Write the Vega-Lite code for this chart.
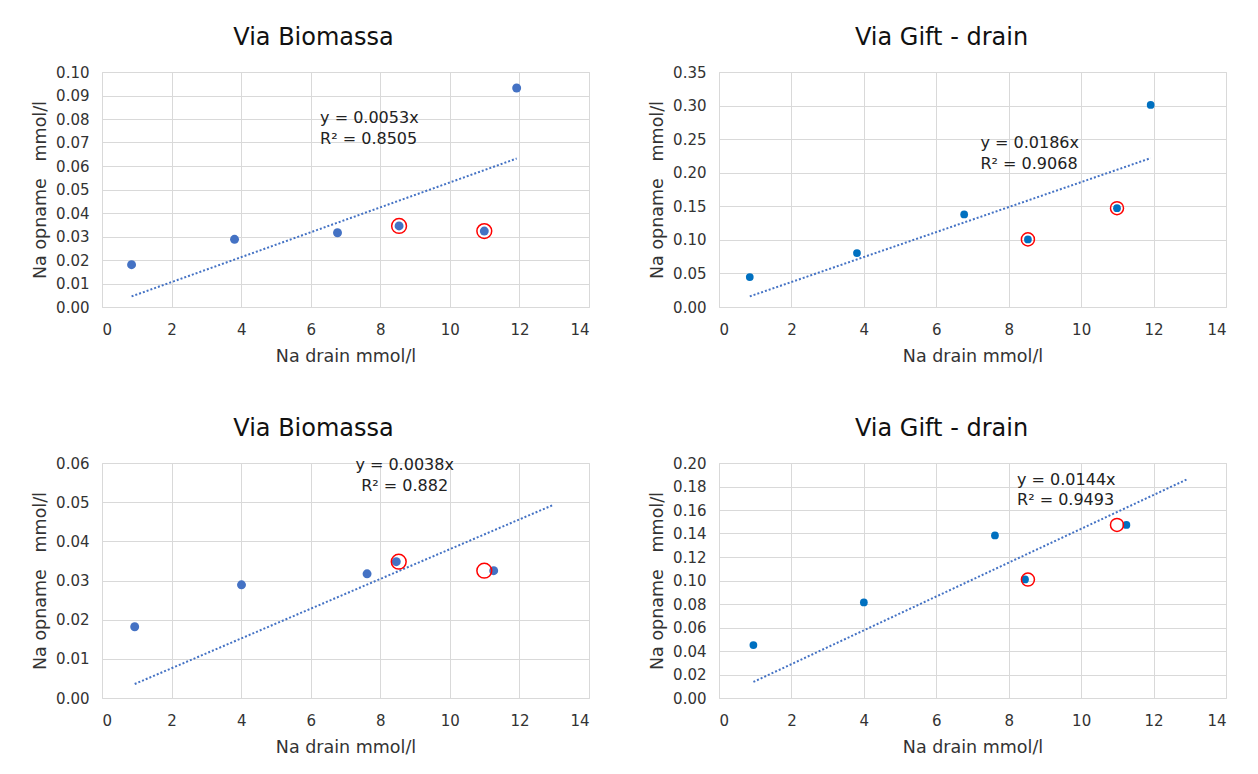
{
  "$schema": "https://vega.github.io/schema/vega-lite/v6.json",
  "background": "white",
  "padding": {"left": 30, "top": 25, "right": 5, "bottom": 5},
  "columns": 2,
  "spacing": {"row": 156, "column": 130},
  "bounds": "flush",
  "config": {
    "font": "DejaVu Sans",
    "view": {"stroke": "#d9d9d9"},
    "axis": {
      "domain": false,
      "ticks": false,
      "grid": true,
      "gridColor": "#d9d9d9",
      "gridWidth": 1,
      "labelFont": "DejaVu Sans",
      "labelFontSize": 15,
      "labelColor": "#333333",
      "titleFont": "DejaVu Sans",
      "titleFontSize": 17.5,
      "titleFontWeight": "normal",
      "titleColor": "#333333"
    },
    "axisX": {"labelPadding": 15, "titlePadding": 10},
    "axisY": {"labelPadding": 13, "titlePadding": 6, "minExtent": 47, "maxExtent": 47},
    "title": {"font": "DejaVu Sans", "fontSize": 24, "fontWeight": "normal", "color": "#111111", "offset": 15, "anchor": "middle"}
  },
  "datasets": {
    "bio1_points": [
      {"drain": 0.85, "opname": 0.0180},
      {"drain": 3.81, "opname": 0.0288},
      {"drain": 6.77, "opname": 0.0316},
      {"drain": 8.54, "opname": 0.0345},
      {"drain": 10.99, "opname": 0.0323},
      {"drain": 11.92, "opname": 0.0932}
    ],
    "bio1_marked": [
      {"drain": 8.54, "opname": 0.0345},
      {"drain": 10.99, "opname": 0.0323}
    ],
    "bio1_trend": [
      {"drain": 0.85, "opname": 0.004505},
      {"drain": 11.92, "opname": 0.063176}
    ],
    "bio1_eq": [
      {"drain": 6.27, "opname": 0.0782, "label": "y = 0.0053x\nR² = 0.8505"}
    ],
    "gift1_points": [
      {"drain": 0.85, "opname": 0.0446},
      {"drain": 3.81, "opname": 0.0803},
      {"drain": 6.77, "opname": 0.1378},
      {"drain": 8.53, "opname": 0.1007},
      {"drain": 10.99, "opname": 0.1472},
      {"drain": 11.92, "opname": 0.3009}
    ],
    "gift1_marked": [
      {"drain": 8.53, "opname": 0.1007},
      {"drain": 10.99, "opname": 0.1472}
    ],
    "gift1_trend": [
      {"drain": 0.85, "opname": 0.01581},
      {"drain": 11.92, "opname": 0.221712}
    ],
    "gift1_eq": [
      {"drain": 7.22, "opname": 0.2364, "label": "y = 0.0186x\nR² = 0.9068"}
    ],
    "bio2_points": [
      {"drain": 0.94, "opname": 0.0182},
      {"drain": 4.01, "opname": 0.0289},
      {"drain": 7.62, "opname": 0.0317},
      {"drain": 8.46, "opname": 0.0348},
      {"drain": 11.26, "opname": 0.0325}
    ],
    "bio2_marked": [
      {"drain": 8.53, "opname": 0.0348},
      {"drain": 10.99, "opname": 0.0325}
    ],
    "bio2_trend": [
      {"drain": 0.94, "opname": 0.003572},
      {"drain": 12.95, "opname": 0.04921}
    ],
    "bio2_eq": [
      {"drain": 8.7, "opname": 0.0581, "label": "y = 0.0038x\nR² = 0.882"}
    ],
    "gift2_points": [
      {"drain": 0.95, "opname": 0.0451},
      {"drain": 4.0, "opname": 0.0813},
      {"drain": 7.62, "opname": 0.1383},
      {"drain": 8.45, "opname": 0.1009},
      {"drain": 11.25, "opname": 0.1473}
    ],
    "gift2_marked": [
      {"drain": 8.53, "opname": 0.1008},
      {"drain": 10.99, "opname": 0.1473}
    ],
    "gift2_trend": [
      {"drain": 0.95, "opname": 0.01368},
      {"drain": 12.95, "opname": 0.18648}
    ],
    "gift2_eq": [
      {"drain": 8.23, "opname": 0.1816, "label": "y = 0.0144x\nR² = 0.9493"}
    ]
  },
  "concat": [
    {
      "title": {"text": "Via Biomassa", "dx": -32},
      "width": 487,
      "height": 235,
      "encoding": {
        "x": {"field": "drain", "type": "quantitative", "scale": {"domain": [0, 14], "nice": false},
              "axis": {"values": [0, 2, 4, 6, 8, 10, 12, 14], "title": "Na drain mmol/l"}},
        "y": {"field": "opname", "type": "quantitative", "scale": {"domain": [0, 0.1], "nice": false},
              "axis": {"values": [0, 0.01, 0.02, 0.03, 0.04, 0.05, 0.06, 0.07, 0.08, 0.09, 0.1], "format": ".2f", "title": "Na opname\u00a0\u00a0\u00a0mmol/l"}}
      },
      "layer": [
        {"data": {"name": "bio1_trend"}, "mark": {"type": "line", "color": "#4472C4", "strokeWidth": 2, "strokeDash": [2, 2]}},
        {"data": {"name": "bio1_points"}, "mark": {"type": "circle", "color": "#4472C4", "size": 80, "opacity": 1}},
        {"data": {"name": "bio1_marked"}, "mark": {"type": "point", "filled": false, "color": "#FF0000", "size": 220, "strokeWidth": 1.5, "opacity": 1}},
        {"data": {"name": "bio1_eq"}, "mark": {"type": "text", "align": "left", "baseline": "alphabetic", "fontSize": 16, "lineHeight": 20.6, "lineBreak": "\n", "color": "#222222"},
         "encoding": {"text": {"field": "label"}}}
      ]
    },
    {
      "title": {"text": "Via Gift - drain", "dx": -31},
      "width": 507,
      "height": 235,
      "encoding": {
        "x": {"field": "drain", "type": "quantitative", "scale": {"domain": [0, 14], "nice": false},
              "axis": {"values": [0, 2, 4, 6, 8, 10, 12, 14], "title": "Na drain mmol/l"}},
        "y": {"field": "opname", "type": "quantitative", "scale": {"domain": [0, 0.35], "nice": false},
              "axis": {"values": [0, 0.05, 0.1, 0.15, 0.2, 0.25, 0.3, 0.35], "format": ".2f", "title": "Na opname\u00a0\u00a0\u00a0mmol/l"}}
      },
      "layer": [
        {"data": {"name": "gift1_trend"}, "mark": {"type": "line", "color": "#4472C4", "strokeWidth": 2, "strokeDash": [2, 2]}},
        {"data": {"name": "gift1_points"}, "mark": {"type": "circle", "color": "#0070C0", "size": 60, "opacity": 1}},
        {"data": {"name": "gift1_marked"}, "mark": {"type": "point", "filled": false, "color": "#FF0000", "size": 170, "strokeWidth": 1.5, "opacity": 1}},
        {"data": {"name": "gift1_eq"}, "mark": {"type": "text", "align": "left", "baseline": "alphabetic", "fontSize": 16, "lineHeight": 20.6, "lineBreak": "\n", "color": "#222222"},
         "encoding": {"text": {"field": "label"}}}
      ]
    },
    {
      "title": {"text": "Via Biomassa", "dx": -32},
      "width": 487,
      "height": 235,
      "encoding": {
        "x": {"field": "drain", "type": "quantitative", "scale": {"domain": [0, 14], "nice": false},
              "axis": {"values": [0, 2, 4, 6, 8, 10, 12, 14], "title": "Na drain mmol/l"}},
        "y": {"field": "opname", "type": "quantitative", "scale": {"domain": [0, 0.06], "nice": false},
              "axis": {"values": [0, 0.01, 0.02, 0.03, 0.04, 0.05, 0.06], "format": ".2f", "title": "Na opname\u00a0\u00a0\u00a0mmol/l"}}
      },
      "layer": [
        {"data": {"name": "bio2_trend"}, "mark": {"type": "line", "color": "#4472C4", "strokeWidth": 2, "strokeDash": [2, 2]}},
        {"data": {"name": "bio2_points"}, "mark": {"type": "circle", "color": "#4472C4", "size": 80, "opacity": 1}},
        {"data": {"name": "bio2_marked"}, "mark": {"type": "point", "filled": false, "color": "#FF0000", "size": 220, "strokeWidth": 1.5, "opacity": 1}},
        {"data": {"name": "bio2_eq"}, "mark": {"type": "text", "align": "center", "baseline": "alphabetic", "fontSize": 16, "lineHeight": 20.6, "lineBreak": "\n", "color": "#222222"},
         "encoding": {"text": {"field": "label"}}}
      ]
    },
    {
      "title": {"text": "Via Gift - drain", "dx": -31},
      "width": 507,
      "height": 235,
      "encoding": {
        "x": {"field": "drain", "type": "quantitative", "scale": {"domain": [0, 14], "nice": false},
              "axis": {"values": [0, 2, 4, 6, 8, 10, 12, 14], "title": "Na drain mmol/l"}},
        "y": {"field": "opname", "type": "quantitative", "scale": {"domain": [0, 0.2], "nice": false},
              "axis": {"values": [0, 0.02, 0.04, 0.06, 0.08, 0.1, 0.12, 0.14, 0.16, 0.18, 0.2], "format": ".2f", "title": "Na opname\u00a0\u00a0\u00a0mmol/l"}}
      },
      "layer": [
        {"data": {"name": "gift2_trend"}, "mark": {"type": "line", "color": "#4472C4", "strokeWidth": 2, "strokeDash": [2, 2]}},
        {"data": {"name": "gift2_points"}, "mark": {"type": "circle", "color": "#0070C0", "size": 60, "opacity": 1}},
        {"data": {"name": "gift2_marked"}, "mark": {"type": "point", "filled": false, "color": "#FF0000", "size": 170, "strokeWidth": 1.5, "opacity": 1}},
        {"data": {"name": "gift2_eq"}, "mark": {"type": "text", "align": "left", "baseline": "alphabetic", "fontSize": 16, "lineHeight": 20.6, "lineBreak": "\n", "color": "#222222"},
         "encoding": {"text": {"field": "label"}}}
      ]
    }
  ]
}
